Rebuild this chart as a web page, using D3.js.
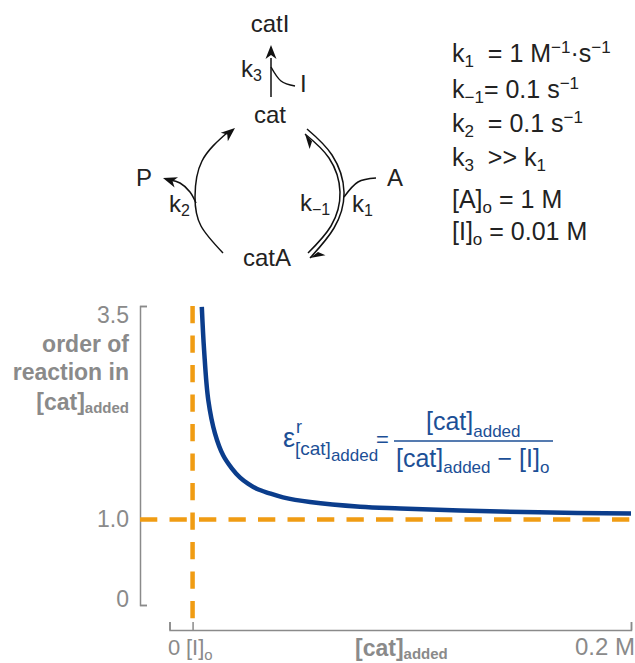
<!DOCTYPE html>
<html>
<head>
<meta charset="utf-8">
<script src="https://cdn.jsdelivr.net/npm/d3@7"></script>
<style>
  body { margin: 0; background: #fff; }
  svg text { font-family: "Liberation Sans", Arial, sans-serif; }
</style>
</head>
<body>
<div id="chart"></div>
<script>
// curve: [cat]added (M) vs order of reaction
var catAdded = [0.0140, 0.0150, 0.0168, 0.0197, 0.0233, 0.027, 0.0306, 0.034, 0.0378, 0.043, 0.0492, 0.0609, 0.0826, 0.1, 0.1259, 0.16, 0.2];
var order = [3.49, 2.98, 2.40, 2.01, 1.75, 1.60, 1.49, 1.42, 1.36, 1.31, 1.26, 1.205, 1.15, 1.13, 1.105, 1.085, 1.07];
var yTicks = [0, 1, 3.5];
var yTickLabels = ['0', '1.0', '3.5'];
var xTicks = [0, 0.01, 0.2];
var iZero = 0.01;
var orderLimit = 1;

var width = 635, height = 663;
var grey = '#8a8a8a', ink = '#222', blue = '#0b3d8c', blueText = '#1c4f96', orange = '#f09c13';

var svg = d3.select('#chart').append('svg')
  .attr('width', width)
  .attr('height', height);

var x = d3.scaleLinear().domain([0, 0.2]).range([169.5, 631]);
var y = d3.scaleLinear().domain([0, 3.5]).range([605, 306]);

// parts: [string, 'sub' | 'sup' | undefined]
function rich(px, py, parts, opts) {
  var size = opts.size, subSize = opts.subSize || size * 0.68;
  var t = svg.append('text')
    .attr('x', px)
    .attr('y', py)
    .attr('fill', opts.color || ink)
    .attr('font-size', size)
    .attr('font-weight', opts.bold ? 'bold' : 'normal')
    .attr('text-anchor', opts.anchor || 'start')
    .attr('xml:space', 'preserve');
  var shift = 0;
  parts.forEach(function (p) {
    var target = p[1] == 'sub' ? (opts.subDrop || size * 0.3) : p[1] == 'sup' ? -size * 0.36 : 0;
    t.append('tspan')
      .attr('dy', target - shift)
      .attr('font-size', p[1] ? subSize : size)
      .text(p[0]);
    shift = target;
  });
  return t;
}

// ---- reaction cycle ----
var curve = d3.line().curve(d3.curveNatural);

function stroke(points) {
  svg.append('path')
    .attr('d', curve(points))
    .attr('fill', 'none')
    .attr('stroke', '#111')
    .attr('stroke-width', 1.5);
}

// barbed head pointing along angle (radians) with the tip at px,py
function head(px, py, angle, half) {
  var len = 14, w = 5.5;
  var back = [px - len * Math.cos(angle), py - len * Math.sin(angle)];
  var notch = [px - len * 0.72 * Math.cos(angle), py - len * 0.72 * Math.sin(angle)];
  var nx = -Math.sin(angle), ny = Math.cos(angle);
  var side = half || 1;
  var pts = half
    ? [[px, py], [back[0] + side * nx * w * 1.3, back[1] + side * ny * w * 1.3], notch]
    : [[px, py], [back[0] + nx * w, back[1] + ny * w], notch, [back[0] - nx * w, back[1] - ny * w]];
  svg.append('polygon')
    .attr('points', pts.join(' '))
    .attr('fill', '#111');
}

stroke([[271, 97], [271, 58]]);
head(271, 45, -Math.PI / 2);
stroke([[295, 86], [281, 81], [271, 67]]);

stroke([[223, 253], [201, 226], [195, 197], [202, 161], [228, 132]]);
head(235, 128, -0.7);
stroke([[196, 203], [190, 192], [180, 183], [170, 180]]);
head(163, 178, Math.PI + 0.32);

stroke([[307, 129], [332, 155], [344, 192], [334, 228], [310, 258]]);
stroke([[305, 134], [329, 158], [340, 192], [331, 226], [308, 253]]);
head(305, 134, Math.PI + 0.8, -1);
head(310, 258, Math.PI - 0.65, -1);
stroke([[376, 178], [358, 182], [344, 197]]);

var labelSize = 24, labelSub = 16;
rich(270, 32, [['catI']], {size: labelSize, anchor: 'middle'});
rich(270, 123, [['cat']], {size: labelSize, anchor: 'middle'});
rich(267, 266, [['catA']], {size: labelSize, anchor: 'middle'});
rich(300, 92, [['I']], {size: labelSize});
rich(136, 186, [['P']], {size: labelSize});
rich(387, 186, [['A']], {size: labelSize});
rich(241, 77, [['k'], ['3', 'sub']], {size: labelSize, subSize: labelSub, subDrop: 4});
rich(169, 212, [['k'], ['2', 'sub']], {size: labelSize, subSize: labelSub, subDrop: 4});
rich(300, 211, [['k'], ['\u22121', 'sub']], {size: labelSize, subSize: labelSub, subDrop: 4});
rich(352, 212, [['k'], ['1', 'sub']], {size: labelSize, subSize: labelSub, subDrop: 4});

// ---- constants ----
var listX = 452, listSize = 25, listSub = 17;
rich(listX, 62, [['k'], ['1', 'sub'], ['  = 1 M'], ['\u22121', 'sup'], ['\u00b7s'], ['\u22121', 'sup']], {size: listSize, subSize: listSub, subDrop: 5});
rich(listX, 98, [['k'], ['\u22121', 'sub'], ['= 0.1 s'], ['\u22121', 'sup']], {size: listSize, subSize: listSub, subDrop: 5});
rich(listX, 132, [['k'], ['2', 'sub'], ['  = 0.1 s'], ['\u22121', 'sup']], {size: listSize, subSize: listSub, subDrop: 5});
rich(listX, 166, [['k'], ['3', 'sub'], ['  >> k'], ['1', 'sub']], {size: listSize, subSize: listSub, subDrop: 5});
rich(listX, 208, [['[A]'], ['o', 'sub'], [' = 1 M']], {size: listSize, subSize: listSub, subDrop: 5});
rich(listX, 240, [['[I]'], ['o', 'sub'], [' = 0.01 M']], {size: listSize, subSize: listSub, subDrop: 5});

// ---- axes ----
var yAxis = d3.axisLeft(y)
  .tickValues(yTicks)
  .tickFormat(function (d, i) { return yTickLabels[i]; })
  .tickSizeInner(-7)
  .tickSizeOuter(-7)
  .tickPadding(11);

var gy = svg.append('g')
  .attr('transform', 'translate(140,0)')
  .call(yAxis);

gy.selectAll('path, line').attr('stroke', grey).attr('stroke-width', 1.5);
gy.selectAll('text')
  .attr('fill', grey)
  .attr('font-size', 23)
  .attr('dy', function (d) { return d == 3.5 ? 16 : d == 0 ? 1 : 7; });

var xAxis = d3.axisBottom(x)
  .tickValues(xTicks)
  .tickFormat('')
  .tickSizeInner(-8)
  .tickSizeOuter(-8);

var gx = svg.append('g')
  .attr('transform', 'translate(0,630)')
  .call(xAxis);

gx.selectAll('path, line').attr('stroke', grey).attr('stroke-width', 1.5);

rich(168, 655, [['0']], {size: 22, color: grey});
rich(186, 655, [['[I]'], ['o', 'sub']], {size: 22, color: grey, subDrop: 5});
rich(635, 655, [['0.2 M']], {size: 24, color: grey, anchor: 'end'});
rich(355, 656, [['[cat]'], ['added', 'sub']], {size: 23, subSize: 15, subDrop: 3, color: grey, bold: true});

rich(129, 352, [['order of']], {size: 23, color: grey, bold: true, anchor: 'end'});
rich(129, 380, [['reaction in']], {size: 23, color: grey, bold: true, anchor: 'end'});
rich(129, 410, [['[cat]'], ['added', 'sub']], {size: 23, subSize: 15, subDrop: 3, color: grey, bold: true, anchor: 'end'});

// ---- dashed limits and curve ----
svg.append('line')
  .attr('x1', x(iZero)).attr('x2', x(iZero))
  .attr('y1', y(3.5)).attr('y2', 619)
  .attr('stroke', orange)
  .attr('stroke-width', 4.5)
  .attr('stroke-dasharray', '17.3 12.2');

svg.append('line')
  .attr('x1', 140).attr('x2', x(0.2))
  .attr('y1', y(orderLimit)).attr('y2', y(orderLimit))
  .attr('stroke', orange)
  .attr('stroke-width', 4.5)
  .attr('stroke-dasharray', '17.3 12.2');

var line = d3.line()
  .x(function (d) { return x(d); })
  .y(function (d, i) { return y(order[i]); })
  .curve(d3.curveCatmullRom.alpha(0.5));

svg.append('path')
  .attr('d', line(catAdded))
  .attr('fill', 'none')
  .attr('stroke', blue)
  .attr('stroke-width', 4.5);

// ---- equation ----
rich(283, 447, [['\u03b5']], {size: 27, color: blueText});
rich(296, 433, [['r']], {size: 18, color: blueText});
rich(295, 455, [['[cat]'], ['added', 'sub']], {size: 19, subSize: 17, subDrop: 6, color: blueText});
rich(376, 447, [['=']], {size: 22, color: blueText});
rich(426, 430, [['[cat]'], ['added', 'sub']], {size: 25, subSize: 17, subDrop: 7, color: blueText});
rich(396, 467, [['[cat]'], ['added', 'sub'], [' \u2212 [I]'], ['o', 'sub']], {size: 25, subSize: 17, subDrop: 6, color: blueText});

svg.append('line')
  .attr('x1', 394).attr('x2', 553)
  .attr('y1', 441).attr('y2', 441)
  .attr('stroke', blueText)
  .attr('stroke-width', 1.5);
</script>
</body>
</html>
